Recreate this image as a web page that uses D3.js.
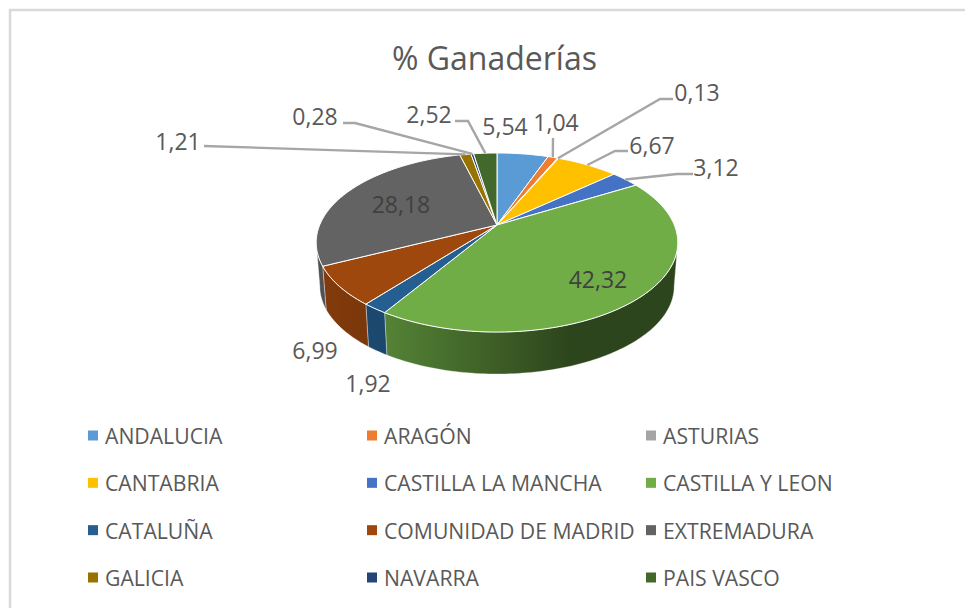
<!DOCTYPE html>
<html><head><meta charset="utf-8">
<script src="https://cdn.jsdelivr.net/npm/d3@7/dist/d3.min.js"></script>
<style>html,body{margin:0;background:#fff}svg{display:block}text{font-family:"Open Sans",sans-serif}</style>
</head><body><svg id="c" width="965" height="608"></svg>
<script>
const titleText = "% Ganaderías";
const categories = ["ANDALUCIA","ARAGÓN","ASTURIAS","CANTABRIA","CASTILLA LA MANCHA","CASTILLA Y LEON","CATALUÑA","COMUNIDAD DE MADRID","EXTREMADURA","GALICIA","NAVARRA","PAIS VASCO"];
const values = [5.54,1.04,0.13,6.67,3.12,42.32,1.92,6.99,28.18,1.21,0.28,2.52];
const colors = ["#5B9BD5","#ED7D31","#A5A5A5","#FFC000","#4472C4","#70AD47","#255E91","#9E480E","#636363","#997300","#264478","#43682B"];
const fmt = v => d3.format(".2f")(v).replace(".", ",");

// layout: label centres and leader elbows, by category index
const labelAt = [[505,126],[556,122],[697,92],[652,145],[716,167],[598,279],[368,383],[315,350],[401,204],[178,141],[315,116],[429,114]];
const leaderPath = {
  1:[[553,138]],
  2:[[673,99],[660,99]],
  3:[[628,151],[615,151]],
  4:[[693,174],[677,174]],
  9:[[204,146]],
  10:[[343,123],[355,123]],
  11:[[455,121],[468,121]]
};
const inner = new Set([5,8]);

const svg = d3.select("#c");
const defs = svg.append("defs");
// frame
svg.append("path").attr("d","M10 608V10H965").attr("fill","none").attr("stroke","#d9d9d9").attr("stroke-width",2.5);

svg.append("text").attr("x",494.5).attr("y",57).attr("text-anchor","middle").attr("dominant-baseline","central")
  .attr("font-size",32).attr("fill","#595959").text(titleText);

// perspective projection of the unit pie disc
const cx=497, cy=225, X=177.3, Y=86.1, K=0.1956, depth=43.8, shrink=0.98, rimCy=242.5;
const proj = a => { const u=Math.sin(a), v=Math.cos(a), w=1+K*v; return [cx+X*u/w, cy-Y*v/w]; };
const projLow = a => { const p=proj(a); return [cx+shrink*(p[0]-cx), rimCy+depth+shrink*(p[1]-rimCy)]; };
const arcs = d3.pie().sort(null).value(d=>d)(values);
const line = d3.line();
const samples = (a0,a1) => { const n=Math.max(2,Math.ceil((a1-a0)/0.02)); return d3.range(n+1).map(i=>a0+(a1-a0)*i/n); };

// walls
const tilt = Math.acos(-K), visA = tilt, visB = 2*Math.PI-tilt;
const shade = d3.scaleLinear().domain([320,387,570,680]).range([0.82,0.75,0.4,0.4]).clamp(true);
const gWall = svg.append("g");
arcs.forEach((d,i)=>{
  const a0=Math.max(d.startAngle,visA), a1=Math.min(d.endAngle,visB);
  if(a1<=a0) return;
  const ts=samples(a0,a1);
  const base=d3.rgb(colors[i]);
  const grad=defs.append("linearGradient").attr("id","w"+i).attr("gradientUnits","userSpaceOnUse")
    .attr("x1",320).attr("x2",680).attr("y1",0).attr("y2",0);
  shade.domain().forEach(x=>{
    const s=shade(x);
    grad.append("stop").attr("offset",(x-320)/360).attr("stop-color",d3.rgb(base.r*s,base.g*s,base.b*s).formatHex());
  });
  gWall.append("path").attr("d",line(ts.map(proj).concat(ts.slice().reverse().map(projLow)))+"Z")
    .attr("fill",`url(#w${i})`).attr("stroke","#fff").attr("stroke-opacity",0.45).attr("stroke-width",0.8);
});

// top face
const gTop = svg.append("g");
arcs.forEach((d,i)=>{
  gTop.append("path").attr("d",line([[cx,cy]].concat(samples(d.startAngle,d.endAngle).map(proj)))+"Z")
    .attr("fill",colors[i]).attr("stroke","#fff").attr("stroke-width",1).attr("stroke-linejoin","round");
});

// leaders
const gLead = svg.append("g").attr("fill","none").attr("stroke","#a6a6a6").attr("stroke-width",2.4);
Object.entries(leaderPath).forEach(([k,pts])=>{
  const d=arcs[+k], end=proj((d.startAngle+d.endAngle)/2);
  gLead.append("path").attr("d",line(pts.concat([end])));
});

// data labels
svg.append("g").selectAll("text").data(values).join("text")
  .attr("x",(d,i)=>labelAt[i][0]).attr("y",(d,i)=>labelAt[i][1])
  .attr("text-anchor","middle").attr("dominant-baseline","central")
  .attr("font-size",23).attr("fill",(d,i)=>inner.has(i)?"#404040":"#595959").text(fmt);

// legend
const colX=d3.scalePoint().domain([0,1,2]).range([88,646]);
const rowY=d3.scalePoint().domain([0,1,2,3]).range([435.5,577.5]);
const lg=svg.append("g").selectAll("g").data(categories).join("g")
  .attr("transform",(d,i)=>`translate(${colX(i%3)},${rowY(Math.floor(i/3))})`);
lg.append("rect").attr("x",0).attr("y",-5).attr("width",10).attr("height",10).attr("fill",(d,i)=>colors[i]);
lg.append("text").attr("x",17).attr("y",0).attr("dominant-baseline","central")
  .attr("font-size",21.2).attr("fill","#595959").text(d=>d);
</script></body></html>
